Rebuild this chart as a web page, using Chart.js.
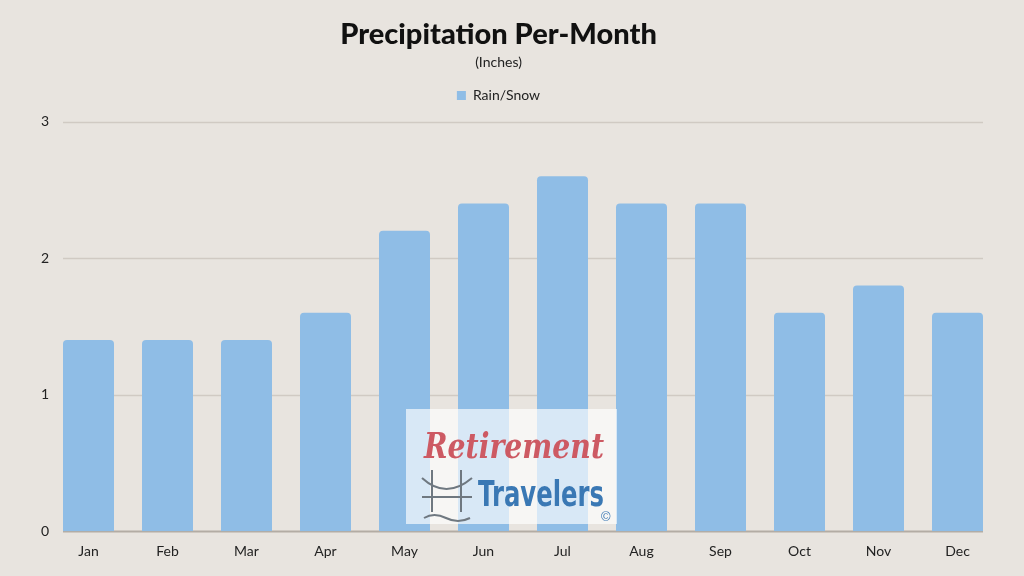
<!DOCTYPE html>
<html><head><meta charset="utf-8">
<script src="https://cdn.jsdelivr.net/npm/chart.js@4"></script>
<style>html,body{margin:0;padding:0;background:#e8e4df;}#wrap{width:1024px;height:576px;}</style>
</head><body><div id="wrap"><canvas id="c" width="1024" height="576"></canvas></div>
<script>
const months = ["Jan","Feb","Mar","Apr","May","Jun","Jul","Aug","Sep","Oct","Nov","Dec"];
const rainSnow = [1.4,1.4,1.4,1.6,2.2,2.4,2.6,2.4,2.4,1.6,1.8,1.6];
const yTicks = [0,1,2,3];
const titleText = "Precipitation Per-Month";
const subtitleText = "(Inches)";
const seriesName = "Rain/Snow";

const FONT = "Lato, 'Open Sans', sans-serif";

const gridPlugin = {
  id: 'gridPlugin',
  beforeLayout(chart) {
    const lg = chart.legend;
    if (lg && !lg._extraGap) {
      lg._extraGap = true;
      const origFit = lg.fit;
      lg.fit = function () { origFit.call(this); this.height += 9; };
    }
  },
  beforeDatasetsDraw(chart) {
    const ctx = chart.ctx, y = chart.scales.y;
    const meta = chart.getDatasetMeta(0);
    const first = meta.data[0], last = meta.data[meta.data.length - 1];
    const x0 = first.x - first.width / 2, x1 = last.x + last.width / 2;
    ctx.save();
    yTicks.forEach(v => {
      const py = Math.round(y.getPixelForValue(v)) + 0.5;
      ctx.strokeStyle = v === 0 ? '#b3aca4' : '#d0cac3';
      ctx.lineWidth = v === 0 ? 2 : 1.5;
      ctx.beginPath(); ctx.moveTo(x0, py); ctx.lineTo(x1, py); ctx.stroke();
    });
    ctx.restore();
  },
  afterDraw(chart) {
    const ctx = chart.ctx;
    ctx.save();
    ctx.fillStyle = 'rgba(255,255,255,0.65)';
    ctx.fillRect(406, 409, 211, 115);
    ctx.fillStyle = '#cd5a63';
    ctx.font = "italic bold 36px 'DejaVu Serif', serif";
    ctx.textAlign = 'left'; ctx.textBaseline = 'alphabetic';
    ctx.fillText('Retirement', 424, 458, 180);
    ctx.fillStyle = '#3a78b4';
    ctx.font = "bold 36px 'DejaVu Sans', sans-serif";
    ctx.fillText('Travelers', 478, 506, 126);
    ctx.strokeStyle = '#6f7880'; ctx.lineWidth = 2;
    ctx.beginPath();
    ctx.moveTo(422, 497); ctx.lineTo(472, 497);
    ctx.moveTo(432, 470); ctx.lineTo(432, 512);
    ctx.moveTo(461, 470); ctx.lineTo(461, 512);
    ctx.moveTo(422, 478); ctx.quadraticCurveTo(446, 500, 472, 478);
    ctx.moveTo(424, 518); ctx.quadraticCurveTo(434, 512, 446, 518); ctx.quadraticCurveTo(458, 524, 470, 518);
    ctx.stroke();
    ctx.font = "13px sans-serif"; ctx.fillStyle = '#3a78b4';
    ctx.fillText('\u00A9', 601, 521);
    ctx.restore();
  }
};

new Chart(document.getElementById('c'), {
  type: 'bar',
  data: {
    labels: months,
    datasets: [{
      label: seriesName,
      data: rainSnow,
      backgroundColor: '#8fbde6',
      borderRadius: {topLeft: 4, topRight: 4, bottomLeft: 0, bottomRight: 0},
      borderSkipped: 'bottom',
      barPercentage: 51/79,
      categoryPercentage: 1
    }]
  },
  plugins: [gridPlugin],
  options: {
    responsive: false,
    animation: false,
    devicePixelRatio: 1,
    layout: { padding: { left: 0, right: 27, top: 0, bottom: 4 } },
    plugins: {
      title: { display: true, text: titleText, color: '#111', font: { family: FONT, size: 29, weight: '900' }, padding: { top: 17, bottom: 2 } },
      subtitle: { display: true, text: subtitleText, color: '#222', font: { family: FONT, size: 14 }, padding: { top: 0, bottom: 0 } },
      legend: { display: true, labels: { color: '#222', font: { family: FONT, size: 14 }, boxWidth: 9, boxHeight: 9, padding: 18 } },
      tooltip: { enabled: false }
    },
    scales: {
      x: {
        grid: { display: false, drawTicks: false },
        border: { display: false },
        ticks: { color: '#222', font: { family: FONT, size: 14 }, padding: 12 }
      },
      y: {
        min: 0, max: 3,
        afterFit(s) { s.width = 49; },
        afterBuildTicks(s) { s.ticks = yTicks.map(v => ({ value: v })); },
        grid: { display: false, drawTicks: false },
        border: { display: false },
        ticks: { color: '#222', font: { family: FONT, size: 14 }, padding: 0 }
      }
    }
  }
});
</script></body></html>
